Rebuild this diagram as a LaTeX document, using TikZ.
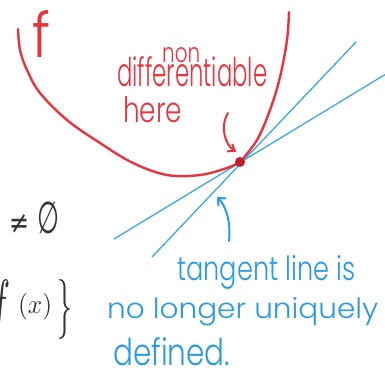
\documentclass[tikz,border=0pt]{standalone}
\usepackage{fontspec}
\IfFontExistsTF{Poppins Light}{\setmainfont{Poppins Light}}{\IfFontExistsTF{Open Sans Light}{\setmainfont{Open Sans Light}}{\setmainfont{Poppins}}}
\newfontfamily\symfont{DejaVu Sans}
\usepackage{graphicx}
\usetikzlibrary{arrows.meta}
\definecolor{markerred}{HTML}{E8343F}
\definecolor{markerblue}{HTML}{2A9BE2}
\definecolor{lineblue}{HTML}{3AAAE3}
\definecolor{inkgray}{HTML}{333333}
\definecolor{dotred}{HTML}{C41E2A}
\newcommand{\fitbox}[3]{\resizebox{#1pt}{#2pt}{#3}}
\newcommand{\fitall}[3]{\resizebox*{#1pt}{#2pt}{#3}}
\begin{document}
\begin{tikzpicture}[x=1pt,y=-1pt,
  redtxt/.style={text=markerred, inner sep=0pt, anchor=base west},
  bluetxt/.style={text=markerblue, inner sep=0pt, anchor=base west},
  inktxt/.style={text=inkgray, inner sep=0pt, anchor=south west},
  redcurve/.style={draw=markerred, line width=2.4pt, line cap=round, line join=round},
  tangent/.style={draw=lineblue, line width=1.3pt, line cap=round},
  redarrow/.style={draw=markerred, line width=2pt, line cap=round, -{Straight Barb[length=6pt,width=9pt]}},
  bluearrow/.style={draw=markerblue, line width=2pt, line cap=round, -{Straight Barb[length=6pt,width=11pt]}}]
\fill[white] (0,0) rectangle (385,386);
\useasboundingbox (0,0) rectangle (385,386);
\clip (0,0) rectangle (385,386);

% tangent lines
\coordinate (L1a) at (356,42);
\coordinate (L1b) at (152,257);
\coordinate (L2a) at (386,74);
\coordinate (L2b) at (114,239);
\draw[tangent] (L1a) -- (L1b);
\draw[tangent] (L2a) -- (L2b);

% function f
\coordinate (P) at (240,162);
\draw[redcurve] plot[smooth, tension=0.6] coordinates {(18,29) (20,50) (27,70) (40,93) (67,120) (100,143) (133,163) (167,175) (200,175) (227,168) (240,162)};
\draw[redcurve] plot[smooth, tension=0.6] coordinates {(240,162) (257,140) (270,110) (280,77) (287,40) (289,12)};
\fill[dotred] (P) circle (5pt);

% labels in red
\node[redtxt] (flab) at (32,57) {\fitbox{18}{47}{f}};
\node[redtxt] (non) at (162,62) {\fitbox{38}{15}{non}};
\node[redtxt] (diff) at (117,86) {\fitbox{150}{30}{differentiable}};
\node[redtxt] (here) at (123,122) {\fitbox{59}{26}{here}};
\coordinate (ra) at (228,113);
\coordinate (rb) at (236,152);
\draw[redarrow] (ra) .. controls (219,128) and (226,145) .. (rb);

% labels in blue
\node[bluetxt] (t1) at (177,280) {\fitbox{178}{25}{tangent line is}};
\node[bluetxt] (t2) at (107,318) {\fitbox{271}{21}{no longer uniquely}};
\node[bluetxt] (t3) at (113,365) {\fitbox{117}{28}{defined.}};
\coordinate (ba) at (229,241);
\coordinate (bb) at (217,197);
\draw[bluearrow] (ba) .. controls (231,222) and (226,206) .. (bb);

% black text cut at the left edge
\node[inktxt] (neq) at (9,234) {\fitall{20}{19}{\symfont ≠}};
\node[inktxt] (empty) at (37,234) {\fitall{22}{32}{\symfont ∅}};
\node[inktxt, anchor=south east] (fx) at (11,338) {\fitall{20}{58}{$f$}};
\node[inktxt] (paren) at (18,320) {\fitall{34}{27}{$(x)$}};
\node[inktxt] (brace) at (57,340) {\fitall{15}{60}{$\}$}};
\end{tikzpicture}
\end{document}
